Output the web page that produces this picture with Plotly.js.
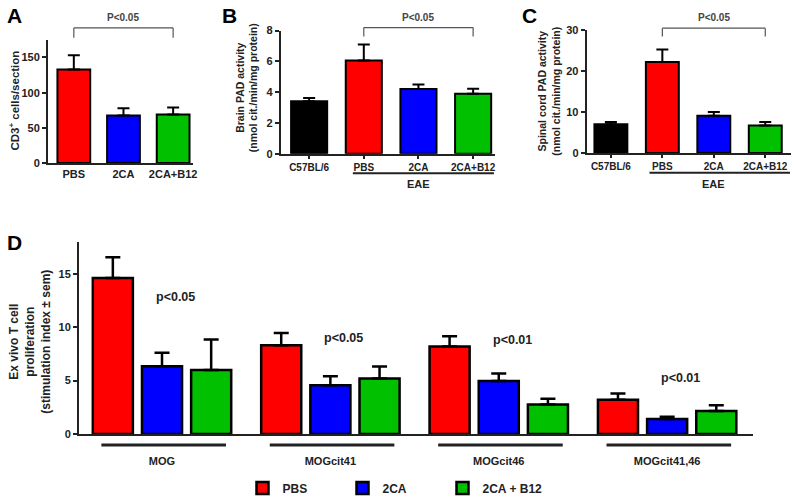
<!DOCTYPE html>
<html>
<head>
<meta charset="utf-8">
<script src="https://cdn.plot.ly/plotly-3.0.1.min.js"></script>
<style>html,body{margin:0;padding:0;background:#fff;}#chart{width:796px;height:503px;}</style>
</head>
<body>
<div id="chart"></div>
<script>
// ---------- data ----------
const catsA = ['PBS', '2CA', '2CA+B12'];
const valsA = [133, 67.5, 69];
const errA = [20, 10.5, 10];
const colorsA = ['#ff0000', '#0000ff', '#00c000'];

const catsBC = ['C57BL/6', 'PBS', '2CA', '2CA+B12'];
const valsB = [3.4, 6.05, 4.2, 3.9];
const errB = [0.22, 1.05, 0.3, 0.32];
const valsC = [7.0, 22.2, 9.1, 6.7];
const errC = [0.6, 3.0, 0.9, 0.9];
const colorsBC = ['#000000', '#ff0000', '#0000ff', '#00c000'];

const groupsD = ['MOG', 'MOGcit41', 'MOGcit46', 'MOGcit41,46'];
const seriesNames = ['PBS', '2CA', '2CA + B12'];
const pbsD = [14.6, 8.3, 8.2, 3.2];
const pbsErr = [1.95, 1.15, 0.95, 0.6];
const caD = [6.35, 4.55, 4.95, 1.4];
const caErr = [1.25, 0.85, 0.7, 0.22];
const b12D = [6.0, 5.2, 2.75, 2.15];
const b12Err = [2.85, 1.12, 0.55, 0.53];
const pTextD = ['p<0.05', 'p<0.05', 'p<0.01', 'p<0.01'];
const pYD = [12.8, 8.95, 8.8, 5.25];

// ---------- helpers ----------
const W = 796, H = 503;
const fx = p => p / W;
const fy = p => 1 - p / H;
const FONT = 'Liberation Sans, Arial, sans-serif';
const INK = '#222';

function barTrace(x, y, err, colors, xa, ya, width) {
  return {
    type: 'bar', x: x, y: y, xaxis: xa, yaxis: ya, width: width,
    marker: {color: colors, line: {color: '#000', width: 2}},
    error_y: {type: 'data', array: err, arrayminus: err.map(() => 0), symmetric: false,
      color: '#000', thickness: 2, width: 6},
    showlegend: false, hoverinfo: 'skip'
  };
}

const traces = [
  barTrace(catsA, valsA, errA, colorsA, 'x', 'y', 0.66),
  barTrace(catsBC, valsB, errB, colorsBC, 'x2', 'y2', 0.66),
  barTrace(catsBC, valsC, errC, colorsBC, 'x3', 'y3', 0.64)
];
const dVals = [pbsD, caD, b12D], dErrs = [pbsErr, caErr, b12Err];
for (let i = 0; i < 3; i++) {
  traces.push({
    type: 'bar', name: seriesNames[i], x: groupsD, y: dVals[i], xaxis: 'x4', yaxis: 'y4',
    marker: {color: colorsA[i], line: {color: '#000', width: 2.5}},
    error_y: {type: 'data', array: dErrs[i], arrayminus: dErrs[i].map(() => 0), symmetric: false,
      color: '#000', thickness: 2.5, width: 7.5},
    showlegend: true, hoverinfo: 'skip'
  });
}

const tickFont = {family: FONT, size: 11, color: INK, weight: 'bold'};
const tickFontSm = {family: FONT, size: 10, color: INK, weight: 'bold'};
function yAx(domain, range, dtick, anchor) {
  return {domain: domain, range: range, dtick: dtick, tick0: 0, anchor: anchor,
    showline: true, linecolor: INK, linewidth: 2, ticks: 'outside', ticklen: 4, tickwidth: 2,
    tickcolor: INK, showgrid: false, zeroline: false, tickfont: tickFont, fixedrange: true};
}
function xAx(domain, range, anchor, ticks, cats, font) {
  return {domain: domain, range: range, anchor: anchor, type: 'category', categoryarray: cats,
    showline: true, linecolor: INK, linewidth: 2, ticks: ticks, ticklen: 3, tickwidth: 2,
    tickcolor: INK, showgrid: false, zeroline: false, tickfont: font || tickFont, fixedrange: true};
}

const shapes = [];
function seg(xref, x0, y0, x1, y1, color, width) {
  shapes.push({type: 'line', xref: xref, yref: 'paper', x0: x0, x1: x1, y0: y0, y1: y1,
    line: {color: color, width: width}});
}
function bracket(xref, a, b, top, leg) {
  seg(xref, a, fy(leg), a, fy(top), '#555', 1.2);
  seg(xref, a, fy(top), b, fy(top), '#555', 1.2);
  seg(xref, b, fy(top), b, fy(leg), '#555', 1.2);
}
bracket('x', 0, 2, 28, 38);
bracket('x2', 1, 3, 27.7, 36.7);
bracket('x3', 1, 3, 28.3, 36.7);
seg('x2', 0.8, fy(174), 3.38, fy(174), INK, 2);
seg('x3', 0.75, fy(173.5), 3.48, fy(173.5), INK, 2);
groupsD.forEach((g, i) => seg('x4', i - 0.36, fy(446.7), i + 0.38, fy(446.7), INK, 3));

const annotations = [];
function ann(o) {
  annotations.push(Object.assign({showarrow: false, xanchor: 'center', yanchor: 'middle'}, o));
}
const letterFont = {family: FONT, size: 21, color: '#000', weight: 'bold'};
ann({xref: 'paper', yref: 'paper', x: fx(15), y: fy(16), text: 'A', font: letterFont});
ann({xref: 'paper', yref: 'paper', x: fx(229), y: fy(16), text: 'B', font: letterFont});
ann({xref: 'paper', yref: 'paper', x: fx(529), y: fy(16), text: 'C', font: letterFont});
ann({xref: 'paper', yref: 'paper', x: fx(15), y: fy(243), text: 'D', font: letterFont});

const pFont = {family: FONT, size: 10, color: '#444', weight: 'bold'};
ann({xref: 'x', yref: 'paper', x: 1, y: fy(18), text: 'P<0.05', font: pFont});
ann({xref: 'x2', yref: 'paper', x: 2, y: fy(18), text: 'P<0.05', font: pFont});
ann({xref: 'x3', yref: 'paper', x: 2, y: fy(18), text: 'P<0.05', font: pFont});

const eaeFont = {family: FONT, size: 11, color: INK, weight: 'bold'};
ann({xref: 'x2', yref: 'paper', x: 2, y: fy(184.5), text: 'EAE', font: eaeFont});
ann({xref: 'x3', yref: 'paper', x: 2, y: fy(184.5), text: 'EAE', font: eaeFont});

const titleFont = {family: FONT, size: 10.5, color: INK, weight: 'bold'};
ann({xref: 'paper', yref: 'paper', x: fx(14), y: fy(101), textangle: -90,
  text: 'CD3<sup>+</sup> cells/section', font: {family: FONT, size: 11.5, color: INK, weight: 'bold'}});
ann({xref: 'paper', yref: 'paper', x: fx(246.5), y: fy(88), textangle: -90,
  text: 'Brain PAD activity<br>(nmol cit./min/mg protein)', font: titleFont});
ann({xref: 'paper', yref: 'paper', x: fx(549), y: fy(92), textangle: -90,
  text: 'Spinal cord PAD activity<br>(nmol cit./min/mg protein)', font: titleFont});
ann({xref: 'paper', yref: 'paper', x: fx(30), y: fy(343), textangle: -90,
  text: 'Ex vivo T cell<br>proliferation<br>(stimulation index ± sem)',
  font: {family: FONT, size: 12, color: INK, weight: 'bold'}});

const pDFont = {family: FONT, size: 12.5, color: INK, weight: 'bold'};
groupsD.forEach((g, i) => ann({xref: 'x4', yref: 'y4', x: i + 0.08, y: pYD[i], text: pTextD[i], font: pDFont}));

const layout = {
  width: W, height: H, margin: {l: 0, r: 0, t: 0, b: 0},
  paper_bgcolor: '#fff', plot_bgcolor: 'rgba(0,0,0,0)',
  barmode: 'group', bargap: 0.124, bargroupgap: 0.185,
  font: {family: FONT, color: INK},
  xaxis: xAx([fx(48), fx(193)], [-0.52, 2.4], 'y', '', catsA),
  yaxis: yAx([fy(163.7), fy(40)], [0, 175], 50, 'x'),
  xaxis2: xAx([fx(280.7), fx(495)], [-0.52, 3.4], 'y2', 'outside', catsBC, tickFontSm),
  yaxis2: yAx([fy(154.3), fy(30.7)], [0, 8], 2, 'x2'),
  xaxis3: xAx([fx(586.7), fx(791)], [-0.47, 3.5], 'y3', 'outside', catsBC, tickFontSm),
  yaxis3: yAx([fy(153.7), fy(30)], [0, 30], 10, 'x3'),
  xaxis4: Object.assign(xAx([fx(79), fx(753)], [-0.493, 3.51], 'y4', '', groupsD), {ticklabelstandoff: 16}),
  yaxis4: yAx([fy(435.7), fy(242.7)], [0, 18], 5, 'x4'),
  legend: {orientation: 'h', x: fx(242.5), y: fy(490), xanchor: 'left', yanchor: 'middle',
    font: {family: FONT, size: 12, color: INK, weight: 'bold'}, entrywidth: 55, entrywidthmode: 'pixels',
    bgcolor: 'rgba(0,0,0,0)'},
  shapes: shapes, annotations: annotations
};

Plotly.newPlot('chart', traces, layout, {displayModeBar: false, staticPlot: true});
</script>
</body>
</html>
